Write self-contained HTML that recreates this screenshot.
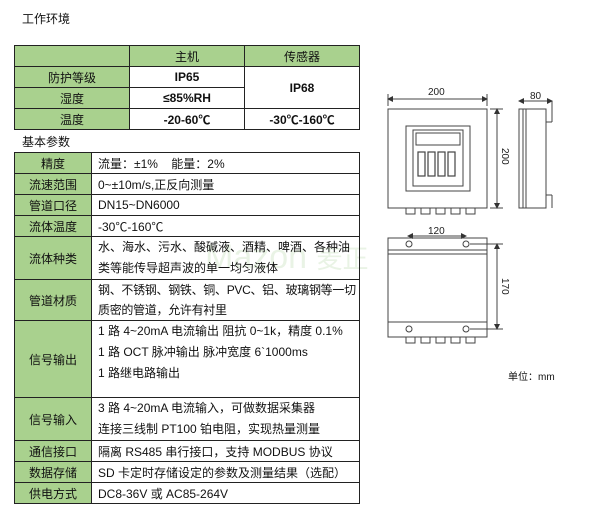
<!DOCTYPE html>
<html><head><meta charset="utf-8"><style>
body{margin:0;width:600px;height:516px;background:#fff;position:relative;overflow:hidden;font-family:"Liberation Sans","Noto Sans CJK SC",sans-serif;color:#111}
.t{position:absolute;font-size:12px}
table{position:absolute;border-collapse:collapse;font-size:12px}
td{border:1.5px solid #222;padding:0}
.g{background:#a9d18e;text-align:center}
.c{text-align:center}
.l{padding-left:6px;white-space:nowrap}
</style></head><body>
<div class="t" style="left:22px;top:10px">工作环境</div>
<table style="left:14px;top:45px;width:346px">
<tr style="height:21px"><td class="g" style="width:114px"></td><td class="g" style="width:114px">主机</td><td class="g">传感器</td></tr>
<tr style="height:21px"><td class="g">防护等级</td><td class="c"><b>IP65</b></td><td class="c" rowspan="2"><b>IP68</b></td></tr>
<tr style="height:21px"><td class="g">湿度</td><td class="c"><b>≤85%RH</b></td></tr>
<tr style="height:21px"><td class="g">温度</td><td class="c"><b>-20-60℃</b></td><td class="c"><b>-30℃-160℃</b></td></tr>
</table>
<div class="t" style="left:22px;top:133px">基本参数</div>
<div class="t" style="left:205px;top:238px;font-size:34px;color:#dcecd4;opacity:.6">Mazon <span style="font-size:26px">麦正</span></div>
<table style="left:14px;top:152px;width:346px">
<tr style="height:21px"><td class="g" style="width:76px">精度</td><td class="l">流量：±1% &nbsp;&nbsp;&nbsp;能量：2%</td></tr>
<tr style="height:21px"><td class="g">流速范围</td><td class="l">0~±10m/s,正反向测量</td></tr>
<tr style="height:21px"><td class="g">管道口径</td><td class="l">DN15~DN6000</td></tr>
<tr style="height:21px"><td class="g">流体温度</td><td class="l">-30℃-160℃</td></tr>
<tr style="height:42px"><td class="g">流体种类</td><td class="l" style="line-height:21px">水、海水、污水、酸碱液、酒精、啤酒、各种油<br>类等能传导超声波的单一均匀液体</td></tr>
<tr style="height:40px"><td class="g">管道材质</td><td class="l" style="line-height:20px;letter-spacing:-0.3px">钢、不锈钢、钢铁、铜、PVC、铝、玻璃钢等一切<br>质密的管道，允许有衬里</td></tr>
<tr style="height:77px"><td class="g">信号输出</td><td class="l" style="line-height:21px;vertical-align:top">1 路 4~20mA 电流输出 阻抗 0~1k，精度 0.1%<br>1 路 OCT 脉冲输出 脉冲宽度 6`1000ms<br>1 路继电路输出</td></tr>
<tr style="height:42px"><td class="g">信号输入</td><td class="l" style="line-height:21px">3 路 4~20mA 电流输入，可做数据采集器<br>连接三线制 PT100 铂电阻，实现热量测量</td></tr>
<tr style="height:21px"><td class="g">通信接口</td><td class="l">隔离 RS485 串行接口，支持 MODBUS 协议</td></tr>
<tr style="height:21px"><td class="g">数据存储</td><td class="l">SD 卡定时存储设定的参数及测量结果（选配）</td></tr>
<tr style="height:21px"><td class="g">供电方式</td><td class="l">DC8-36V 或 AC85-264V</td></tr>
</table>
<svg style="position:absolute;left:0;top:0" width="600" height="516" fill="none" stroke="#444" stroke-width="1" font-family="Liberation Sans" font-size="10">
<defs><marker id="a" markerWidth="6" markerHeight="6" refX="5" refY="3" orient="auto-start-reverse"><path d="M0,0 L6,3 L0,6z" fill="#333" stroke="none"/></marker></defs>
<text x="428" y="95" fill="#222" stroke="none">200</text>
<line x1="388" y1="99" x2="487" y2="99" marker-start="url(#a)" marker-end="url(#a)"/><line x1="388" y1="94" x2="388" y2="106"/><line x1="487" y1="94" x2="487" y2="106"/>
<rect x="388" y="109" width="99" height="99"/>
<rect x="406" y="126" width="64" height="65"/><rect x="413" y="130" width="50" height="56"/>
<rect x="416" y="133" width="44" height="12"/>
<g stroke-width="1.2"><rect x="418" y="152" width="7" height="24"/><rect x="428" y="152" width="7" height="24"/><rect x="438" y="152" width="7" height="24"/><rect x="448" y="152" width="7" height="24"/></g>
<g><rect x="406" y="208" width="9" height="6"/><rect x="421" y="208" width="9" height="6"/><rect x="436" y="208" width="9" height="6"/><rect x="451" y="208" width="9" height="6"/><rect x="466" y="208" width="9" height="6"/></g>
<line x1="497" y1="109" x2="497" y2="208" marker-start="url(#a)" marker-end="url(#a)"/><line x1="490" y1="109" x2="503" y2="109"/><line x1="490" y1="208" x2="503" y2="208"/>
<text x="502" y="148" fill="#222" stroke="none" transform="rotate(90 502 148)">200</text>
<text x="530" y="99" fill="#222" stroke="none">80</text>
<line x1="519" y1="101" x2="552" y2="101" marker-start="url(#a)" marker-end="url(#a)"/>
<rect x="519" y="109" width="27" height="99"/><line x1="523" y1="109" x2="523" y2="208"/><line x1="526" y1="109" x2="526" y2="208"/>
<line x1="546" y1="122" x2="552" y2="122"/><line x1="552" y1="101" x2="552" y2="122"/><line x1="546" y1="195" x2="552" y2="195"/><line x1="552" y1="195" x2="552" y2="208"/>
<text x="428" y="234" fill="#222" stroke="none">120</text>
<line x1="408" y1="236" x2="466" y2="236" marker-start="url(#a)" marker-end="url(#a)"/>
<rect x="388" y="238" width="99" height="99"/>
<line x1="388" y1="250" x2="487" y2="250"/><line x1="388" y1="254" x2="487" y2="254"/>
<line x1="388" y1="322" x2="487" y2="322"/>
<circle cx="409" cy="244" r="3"/><circle cx="466" cy="244" r="3"/><circle cx="409" cy="329" r="3"/><circle cx="466" cy="329" r="3"/>
<g><rect x="406" y="337" width="9" height="6"/><rect x="421" y="337" width="9" height="6"/><rect x="436" y="337" width="9" height="6"/><rect x="451" y="337" width="9" height="6"/><rect x="466" y="337" width="9" height="6"/></g>
<line x1="497" y1="244" x2="497" y2="329" marker-start="url(#a)" marker-end="url(#a)"/><line x1="470" y1="244" x2="503" y2="244"/><line x1="470" y1="329" x2="503" y2="329"/>
<text x="502" y="278" fill="#222" stroke="none" transform="rotate(90 502 278)">170</text>
</svg>
<div class="t" style="left:508px;top:368px;font-size:10px">单位：mm</div>
</body></html>
